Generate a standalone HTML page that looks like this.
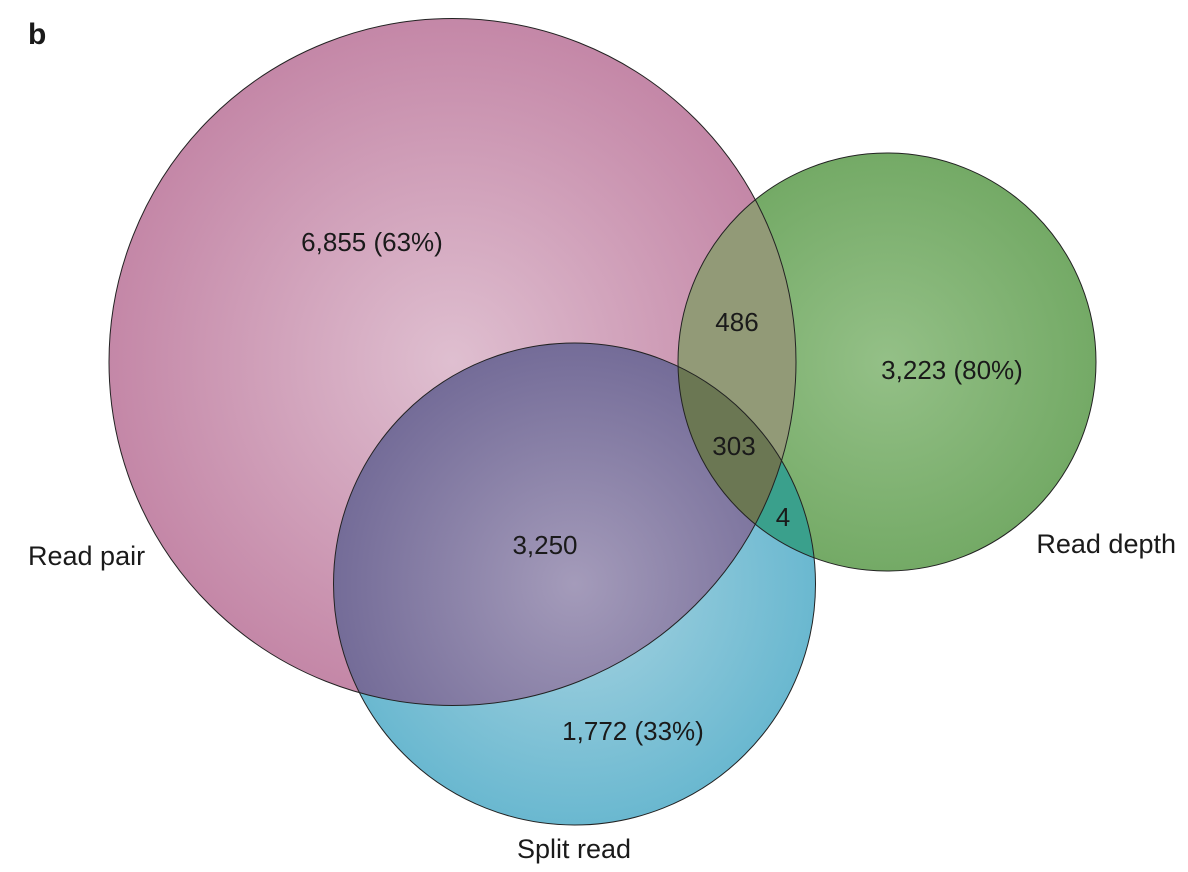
<!DOCTYPE html>
<html><head><meta charset="utf-8">
<style>
html,body{margin:0;padding:0;background:#fff;}
svg{display:block;}
text{font-family:"Liberation Sans",sans-serif;fill:#1a1a1a;}
</style></head>
<body>
<svg id="venn" width="1188" height="872" viewBox="0 0 1188 872" xmlns="http://www.w3.org/2000/svg">
<defs>
<radialGradient id="gPink" cx="0.5" cy="0.5" r="0.5"><stop offset="0" stop-color="#dfbfd0"/><stop offset="1" stop-color="#c487a7"/></radialGradient>
<radialGradient id="gGreen" cx="0.5" cy="0.5" r="0.5"><stop offset="0" stop-color="#94c087"/><stop offset="1" stop-color="#74aa66"/></radialGradient>
<radialGradient id="gBlue" cx="0.5" cy="0.5" r="0.5"><stop offset="0" stop-color="#a9d4e1"/><stop offset="1" stop-color="#6ab8d0"/></radialGradient>
<radialGradient id="gPurple" cx="0.5" cy="0.5" r="0.5"><stop offset="0" stop-color="#a49bba"/><stop offset="1" stop-color="#746c98"/></radialGradient>
<clipPath id="cPink"><circle cx="452.5" cy="362" r="343.5"/></clipPath>
<clipPath id="cGreen"><circle cx="887" cy="362" r="209"/></clipPath>
<clipPath id="cBlue"><circle cx="574.5" cy="584" r="241"/></clipPath>
</defs>
<text x="28" y="44" font-size="30" font-weight="bold">b</text>
<g id="marks"></g>
<g id="labels"></g>
</svg>
<script>
const setNames = ["Read pair", "Read depth", "Split read"];
const regionNames = ["pair-only", "pair-depth", "depth-only", "all-three", "depth-split", "pair-split", "split-only"];
const regionCounts = [6855, 486, 3223, 303, 4, 3250, 1772];
const regionPercents = ["63%", null, "80%", null, null, null, "33%"];

const NS = "http://www.w3.org/2000/svg";
const svg = document.getElementById('venn');
const marks = document.getElementById('marks');
const labels = document.getElementById('labels');
const circles = [
  {cx:452.5, cy:362, r:343.5, fill:'url(#gPink)'},
  {cx:887, cy:362, r:209, fill:'url(#gGreen)'},
  {cx:574.5, cy:584, r:241, fill:'url(#gBlue)'}
];
function mk(tag, attrs, parent){
  const e = document.createElementNS(NS, tag);
  for (const k in attrs) e.setAttribute(k, attrs[k]);
  parent.appendChild(e);
  return e;
}
circles.forEach((c,i)=>{
  const e = mk('circle', {cx:c.cx, cy:c.cy, r:c.r, fill:c.fill}, marks);
  
  
});
function overlap(circleIdx, clipId, fill, name){
  const c = circles[circleIdx];
  const g = mk('g', {'clip-path':'url(#'+clipId+')'}, marks);
  const e = mk('circle', {cx:c.cx, cy:c.cy, r:c.r, fill:fill}, g);
  
  
  return g;
}
overlap(2, 'cPink', 'url(#gPurple)', 'overlap-pair-split');
overlap(1, 'cPink', '#929a77', 'overlap-pair-depth');
overlap(2, 'cGreen', '#3aa08c', 'overlap-depth-split');
const g3 = mk('g', {'clip-path':'url(#cPink)'}, marks);
const g3b = mk('g', {'clip-path':'url(#cBlue)'}, g3);
const e3 = mk('circle', {cx:887, cy:362, r:209, fill:'#6b7753'}, g3b);


circles.forEach((c,i)=>{
  const e = mk('circle', {cx:c.cx, cy:c.cy, r:c.r, fill:'none', stroke:'#222', 'stroke-width':1}, marks);
  
  
});
const anchors = [[372,242],[737,322],[952,370],[734,446],[783,517],[545,545],[633,731]];
regionCounts.forEach((v,i)=>{
  let s = v.toLocaleString('en-US');
  if (regionPercents[i]) s += ' (' + regionPercents[i] + ')';
  const t = mk('text', {x:anchors[i][0], y:anchors[i][1]+9, 'font-size':26, 'text-anchor':'middle'}, labels);
  t.textContent = s;
  
  
});
const setLabelPos = [[28,565,'start'],[1176,553,'end'],[574,858,'middle']];
setNames.forEach((n,i)=>{
  const t = mk('text', {x:setLabelPos[i][0], y:setLabelPos[i][1], 'font-size':27, 'text-anchor':setLabelPos[i][2]}, labels);
  t.textContent = n;
  
  
});
</script>
</body></html>
